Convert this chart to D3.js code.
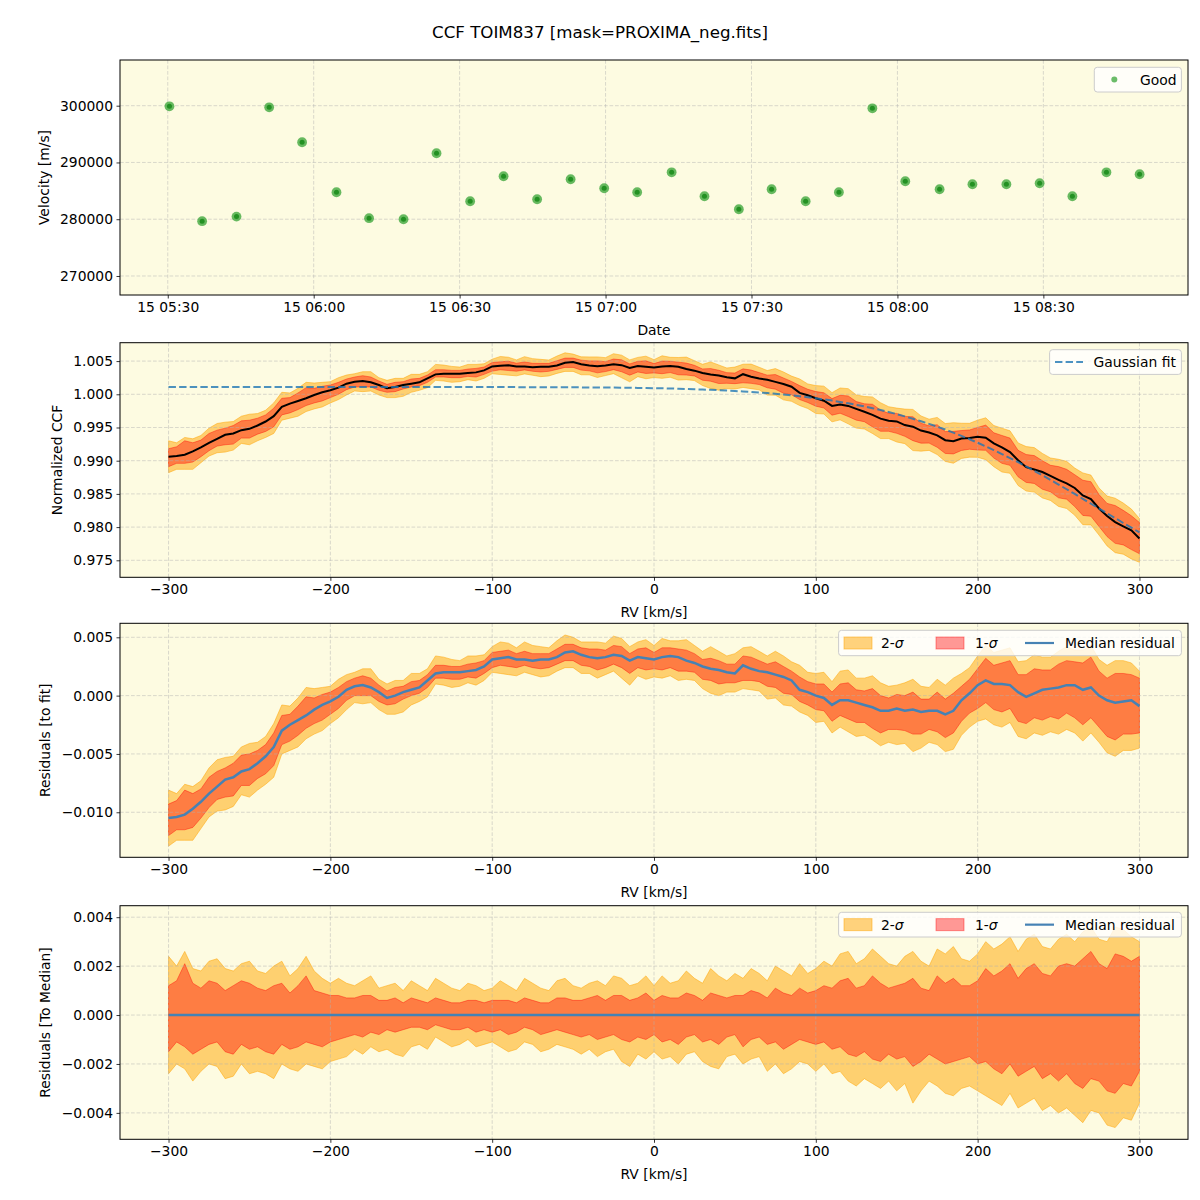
<!DOCTYPE html>
<html><head><meta charset="utf-8">
<script src="https://cdn.jsdelivr.net/npm/d3@7"></script>
<style>body{margin:0;background:#fff}</style>
</head><body><div id="chart"></div>
<script>
// ---------------- DATA ----------------
const obsTimes = ["05:30:21","05:37:04","05:44:08","05:50:51","05:57:37","06:04:41","06:11:23","06:18:28",
  "06:25:15","06:32:10","06:39:02","06:45:56","06:52:49","06:59:43","07:06:30","07:13:35","07:20:20",
  "07:27:24","07:34:08","07:41:08","07:47:58","07:54:51","08:01:37","08:08:40","08:15:25","08:22:24",
  "08:29:14","08:35:58","08:42:58","08:49:47"];
const velocities = [299890,279650,280460,299720,293560,284750,280180,280000,291620,283170,287570,283520,
  287040,285460,284750,288270,284050,281760,285280,283170,284750,299540,286690,285280,286160,286160,
  286340,284050,288270,287920];
const timeTicks = ["05:30","06:00","06:30","07:00","07:30","08:00","08:30"];
const obsDay = "2024-01-15";

// RV grid (km/s), step 5
const rvGrid = d3.range(-300, 301, 5);
// Gaussian fit to the CCF
const gaussFit = [
  1.0011,1.0011,1.0011,1.0011,1.0011,1.0011,1.0011,1.0011,1.0011,1.0011,
  1.0011,1.0011,1.0011,1.0011,1.0011,1.0011,1.0011,1.0011,1.0011,1.0011,
  1.0011,1.0011,1.0011,1.0011,1.0011,1.0011,1.0011,1.0011,1.0011,1.0011,
  1.0011,1.0011,1.0011,1.0011,1.0011,1.0011,1.0011,1.0011,1.0011,1.0011,
  1.00109,1.00109,1.00108,1.00108,1.00107,1.00107,1.00106,1.00106,1.00105,1.00105,
  1.00105,1.00104,1.00103,1.00103,1.00102,1.00101,1.00099,1.00098,1.00096,1.00094,
  1.00092,1.00090,1.00087,1.00084,1.00080,1.00076,1.00072,1.00067,1.00062,1.00056,
  1.00050,1.00043,1.00035,1.00027,1.00018,1.00007,0.99996,0.99984,0.99971,0.99956,
  0.99941,0.99923,0.99905,0.99885,0.99865,0.99841,0.99817,0.99790,0.99763,0.99733,
  0.99702,0.99667,0.99632,0.99594,0.99555,0.99512,0.99469,0.99422,0.99374,0.99323,
  0.99271,0.99216,0.99160,0.99100,0.99040,0.98977,0.98913,0.98847,0.98780,0.98711,
  0.98641,0.98570,0.98499,0.98426,0.98353,0.98280,0.98207,0.98135,0.98062,0.97991,
  0.97919];
// Median residual to the fit, in units of 1e-3
const residMedian = [
  -10.5,-10.4,-10.2,-9.7,-9.1,-8.4,-7.8,-7.2,-7.0,-6.5,-6.3,
  -5.8,-5.2,-4.4,-3.0,-2.5,-2.1,-1.7,-1.2,-0.8,-0.5,
  -0.1,0.5,0.8,0.9,0.7,0.3,-0.2,0.0,0.3,0.5,
  0.7,1.3,1.9,2.0,2.0,2.0,2.1,2.2,2.5,3.1,
  3.2,3.3,3.1,3.1,3.0,3.1,3.1,3.3,3.7,3.8,
  3.5,3.3,3.2,3.3,3.5,3.4,3.0,3.3,3.2,3.1,
  3.3,3.4,3.3,3.0,2.8,2.5,2.3,2.2,2.0,1.9,
  2.6,2.3,2.1,2.0,1.8,1.6,1.3,0.5,0.3,0.0,
  -0.2,-0.8,-0.4,-0.4,-0.6,-0.8,-1.0,-1.3,-1.3,-1.1,
  -1.3,-1.2,-1.4,-1.3,-1.3,-1.6,-1.3,-0.4,0.2,0.9,
  1.3,1.0,1.0,0.9,0.3,-0.1,0.2,0.5,0.6,0.7,
  0.9,0.9,0.5,0.7,0.0,-0.4,-0.6,-0.5,-0.4,-0.9];
// Percentile bands relative to the median, in units of 1e-3
const sig2Upper = [
  2.4,2.0,2.6,1.9,1.8,2.2,2.3,1.9,1.8,2.1,2.2,
  1.8,1.7,2.0,2.2,1.6,1.9,2.4,1.8,1.5,1.3,
  1.5,1.3,1.2,1.4,1.6,1.1,1.2,1.3,1.0,1.4,
  1.2,1.0,1.5,1.3,1.1,1.0,1.3,1.2,1.0,1.1,
  1.4,1.2,1.0,1.5,1.3,1.1,1.0,1.4,1.5,1.2,
  1.1,1.3,1.4,1.2,1.6,1.5,1.2,1.3,1.6,1.2,
  1.6,1.3,1.4,1.8,1.5,1.3,1.9,1.6,1.4,1.7,
  1.5,1.9,1.7,1.4,2.0,1.8,1.6,2.1,1.7,1.9,
  2.2,2.0,2.5,2.6,2.1,2.3,2.7,2.4,2.1,2.0,
  2.4,2.6,2.2,2.0,2.7,2.5,2.8,2.3,2.2,2.5,
  3.0,2.7,2.9,3.2,2.6,3.1,3.3,2.8,2.7,3.1,
  3.3,3.0,3.4,3.6,3.1,3.0,3.6,3.5,3.2,3.0];
const sig1Upper = [
  1.2,1.4,2.1,1.3,1.1,1.4,1.3,1.0,1.2,1.4,1.3,
  1.1,1.0,1.2,1.3,0.9,1.2,1.6,1.0,0.9,0.8,
  0.8,0.7,0.7,0.8,0.8,0.6,0.6,0.7,0.5,0.7,
  0.6,0.5,0.7,0.6,0.5,0.5,0.6,0.6,0.5,0.6,
  0.6,0.6,0.5,0.7,0.6,0.5,0.5,0.7,0.7,0.6,
  0.6,0.7,0.8,0.6,0.8,0.8,0.6,0.7,0.9,0.6,
  0.8,0.7,0.7,0.9,0.8,0.6,0.9,0.8,0.7,0.8,
  0.8,1.0,0.9,0.7,1.1,0.9,0.8,1.1,0.9,1.0,
  1.2,1.1,1.4,1.5,1.1,1.2,1.6,1.3,1.1,1.2,
  1.3,1.5,1.1,1.0,1.6,1.3,1.5,1.2,1.2,1.4,
  1.9,1.6,1.8,2.1,1.5,1.9,2.1,1.7,1.6,2.0,
  2.1,2.0,2.3,2.6,2.1,1.9,2.5,2.4,2.2,2.4];
const sig1Lower = [
  -1.5,-1.1,-1.3,-1.6,-1.4,-1.2,-1.1,-1.5,-1.6,-1.2,-1.4,
  -1.3,-1.5,-1.6,-1.2,-1.4,-1.3,-1.1,-1.2,-1.3,-1.1,
  -1.0,-0.9,-0.8,-0.9,-0.7,-0.8,-0.6,-0.7,-0.6,-0.5,
  -0.5,-0.6,-0.4,-0.5,-0.6,-0.6,-0.5,-0.7,-0.6,-0.7,
  -0.6,-0.8,-0.7,-0.5,-0.6,-0.8,-0.7,-0.6,-0.7,-0.8,
  -0.9,-0.8,-1.0,-0.9,-0.8,-1.0,-1.1,-0.9,-1.0,-0.8,
  -1.1,-1.0,-1.2,-0.9,-0.8,-1.1,-1.0,-1.2,-0.9,-0.8,
  -1.3,-1.0,-0.9,-1.2,-1.1,-1.4,-1.2,-1.0,-1.1,-1.2,
  -1.1,-1.4,-1.3,-1.6,-1.7,-1.5,-1.8,-1.9,-1.6,-1.8,
  -1.7,-2.1,-1.9,-1.6,-1.8,-2.0,-1.9,-1.8,-1.7,-2.0,
  -1.9,-2.2,-2.4,-2.0,-2.5,-2.3,-2.1,-2.6,-2.4,-2.7,
  -2.4,-2.8,-3.0,-2.6,-2.7,-3.1,-3.2,-2.8,-2.9,-2.3];
const sig2Lower = [
  -2.4,-2.0,-2.2,-2.7,-2.3,-2.0,-2.1,-2.6,-2.5,-2.0,-2.4,
  -2.3,-2.4,-2.6,-2.0,-2.2,-2.3,-2.0,-2.1,-2.2,-1.9,
  -1.8,-1.7,-1.4,-1.6,-1.3,-1.5,-1.4,-1.6,-1.7,-1.3,
  -1.2,-1.4,-0.9,-1.1,-1.3,-1.2,-1.0,-1.3,-1.2,-1.1,
  -1.3,-1.5,-1.4,-1.1,-1.2,-1.5,-1.4,-1.2,-1.3,-1.4,
  -1.6,-1.4,-1.7,-1.5,-1.4,-1.9,-2.1,-1.6,-1.8,-1.5,
  -1.8,-1.7,-2.0,-1.6,-1.5,-1.9,-2.1,-2.2,-1.7,-1.6,
  -2.0,-1.8,-1.7,-2.3,-2.0,-2.4,-2.2,-1.9,-2.0,-2.3,
  -2.0,-2.4,-2.3,-2.7,-2.9,-2.6,-2.8,-3.0,-2.7,-3.1,
  -2.8,-3.6,-3.1,-2.7,-2.9,-3.2,-3.3,-3.0,-2.9,-3.1,
  -3.3,-3.5,-3.7,-3.2,-3.8,-3.6,-3.4,-3.9,-3.7,-4.0,
  -3.8,-4.1,-4.4,-3.9,-4.0,-4.5,-4.6,-4.2,-4.3,-3.6];
const milli = 1e-3;

const rvTicks = [-300,-200,-100,0,100,200,300];
const velTicks = [270000,280000,290000,300000];
const ccfTicks = [0.975,0.980,0.985,0.990,0.995,1.000,1.005];
const resTicks = [-0.010,-0.005,0.000,0.005];
const medTicks = [-0.004,-0.002,0.000,0.002,0.004];

// ---------------- LAYOUT ----------------
const W = 1200, H = 1200, L = 120, R = 1188;
const FONT = "'DejaVu Sans', 'Liberation Sans', sans-serif";
const FS = 13.89;
const BG = "#fdfbe1";
const P = [{t:60,b:295},{t:342.7,b:577.3},{t:623.3,b:857.3},{t:905.7,b:1139.3}];

const svg = d3.select("#chart").append("svg").attr("width",W).attr("height",H)
  .style("font-family",FONT);
svg.append("rect").attr("width",W).attr("height",H).attr("fill","#fff");

svg.append("text").attr("x",600).attr("y",32).attr("text-anchor","middle")
  .attr("dominant-baseline","central").attr("font-size",16.67).attr("fill","#000")
  .text("CCF TOIM837 [mask=PROXIMA_neg.fits]");

function makePanel(i, x, y, xTicks, yTicks){
  const p = P[i];
  const g = svg.append("g");
  g.append("rect").attr("x",L).attr("y",p.t).attr("width",R-L).attr("height",p.b-p.t).attr("fill",BG);
  const cid = "clip"+i;
  g.append("clipPath").attr("id",cid).append("rect")
    .attr("x",L).attr("y",p.t).attr("width",R-L).attr("height",p.b-p.t);
  const under = g.append("g").attr("clip-path",`url(#${cid})`);
  const grid = g.append("g").attr("stroke","#b0b0b0").attr("stroke-opacity",0.6)
    .attr("stroke-width",0.8).attr("stroke-dasharray","3.7,1.8");
  xTicks.forEach(v => grid.append("line").attr("x1",x(v)).attr("x2",x(v)).attr("y1",p.t).attr("y2",p.b));
  yTicks.forEach(v => grid.append("line").attr("x1",L).attr("x2",R).attr("y1",y(v)).attr("y2",y(v)));
  const over = g.append("g").attr("clip-path",`url(#${cid})`);
  const frame = g.append("g");
  frame.append("rect").attr("x",L).attr("y",p.t).attr("width",R-L).attr("height",p.b-p.t)
    .attr("fill","none").attr("stroke","#000").attr("stroke-width",1);
  return {under, over, frame, p};
}
function styleAxis(sel){
  sel.attr("font-size",null).attr("font-family",null);
  sel.select(".domain").remove();
  sel.selectAll(".tick line").attr("stroke","#000").attr("stroke-width",0.8);
  sel.selectAll(".tick text").attr("font-size",FS).attr("fill","#000");
}
function axes(pan, x, y, xTicks, yTicks, xFmt, yFmt, xLabel, yLabel, yLabelX){
  const p = pan.p;
  const gx = svg.append("g").attr("transform",`translate(0,${p.b})`)
    .call(d3.axisBottom(x).tickValues(xTicks).tickFormat(xFmt).tickSize(3.5).tickPadding(3.5));
  styleAxis(gx);
  const gy = svg.append("g").attr("transform",`translate(${L},0)`)
    .call(d3.axisLeft(y).tickValues(yTicks).tickFormat(yFmt).tickSize(3.5).tickPadding(3.5));
  styleAxis(gy);
  svg.append("text").attr("x",(L+R)/2).attr("y",p.b+35).attr("text-anchor","middle")
    .attr("dominant-baseline","central").attr("font-size",FS).text(xLabel);
  const cy = (p.t+p.b)/2;
  svg.append("text").attr("transform",`translate(${yLabelX},${cy}) rotate(-90)`)
    .attr("text-anchor","middle").attr("dominant-baseline","central").attr("font-size",FS).text(yLabel);
}
function legendBox(x0,y0,x1,y1){
  svg.append("rect").attr("x",x0).attr("y",y0).attr("width",x1-x0).attr("height",y1-y0)
    .attr("rx",3).attr("fill","#fff").attr("fill-opacity",0.8).attr("stroke","#cccccc").attr("stroke-width",1);
}
function sigmaText(x, y, n){
  const t = svg.append("text").attr("x",x).attr("y",y).attr("dominant-baseline","central").attr("font-size",FS);
  t.append("tspan").text(n+"-");
  t.append("tspan").attr("font-style","italic").text("σ");
}
function bandLegend(y0,y1){
  legendBox(838.6,y0,1181.4,y1);
  const cy = (y0+y1)/2;
  svg.append("rect").attr("x",844).attr("y",cy-6).attr("width",28).attr("height",12)
    .attr("fill","orange").attr("fill-opacity",0.5).attr("stroke","orange").attr("stroke-opacity",0.5);
  sigmaText(881, cy, "2");
  svg.append("rect").attr("x",936).attr("y",cy-6).attr("width",28).attr("height",12)
    .attr("fill","red").attr("fill-opacity",0.4).attr("stroke","red").attr("stroke-opacity",0.4);
  sigmaText(975, cy, "1");
  svg.append("line").attr("x1",1025).attr("x2",1054).attr("y1",cy).attr("y2",cy)
    .attr("stroke","steelblue").attr("stroke-width",2.2);
  svg.append("text").attr("x",1065).attr("y",cy).attr("dominant-baseline","central")
    .attr("font-size",FS).text("Median residual");
}
function drawBands(layer, x, y, base){
  const a2 = d3.area().x((d,i)=>x(rvGrid[i])).y0((d,i)=>y(base[i]+sig2Lower[i]*milli)).y1((d,i)=>y(base[i]+sig2Upper[i]*milli));
  const a1 = d3.area().x((d,i)=>x(rvGrid[i])).y0((d,i)=>y(base[i]+sig1Lower[i]*milli)).y1((d,i)=>y(base[i]+sig1Upper[i]*milli));
  layer.append("path").attr("d",a2(rvGrid)).attr("fill","orange").attr("fill-opacity",0.5)
    .attr("stroke","orange").attr("stroke-opacity",0.5).attr("stroke-width",1);
  layer.append("path").attr("d",a1(rvGrid)).attr("fill","red").attr("fill-opacity",0.4)
    .attr("stroke","red").attr("stroke-opacity",0.4).attr("stroke-width",1);
}

// ---------------- PANEL 1: velocities ----------------
const parseT = d3.utcParse("%Y-%m-%d %H:%M:%S");
const tDates = obsTimes.map(t => parseT(obsDay+" "+t));
const tickDates = timeTicks.map(t => parseT(obsDay+" "+t+":00"));
const x1 = d3.scaleUtc().domain([parseT(obsDay+" 05:20:11"), parseT(obsDay+" 08:59:44")]).range([L,R]);
const y1 = d3.scaleLinear().domain([266653, 308050]).range([P[0].b, P[0].t]);
const pan1 = makePanel(0, x1, y1, tickDates, velTicks);
const pts = pan1.over.selectAll("g.pt").data(velocities).join("g").attr("class","pt")
  .attr("transform",(d,i)=>`translate(${x1(tDates[i])},${y1(d)})`);
pts.append("circle").attr("r",4.9).attr("fill","#2ca02c").attr("fill-opacity",0.72);
pts.append("circle").attr("r",2.5).attr("fill","#178a17").attr("fill-opacity",0.85);
axes(pan1, x1, y1, tickDates, velTicks, d3.utcFormat("%d %H:%M"), d3.format("d"), "Date", "Velocity [m/s]", 44);
legendBox(1094.3,67.3,1181.4,92);
svg.append("circle").attr("cx",1114.3).attr("cy",79.6).attr("r",3).attr("fill","#2ca02c").attr("fill-opacity",0.7);
svg.append("text").attr("x",1140).attr("y",79.6).attr("dominant-baseline","central").attr("font-size",FS).text("Good");

// ---------------- PANEL 2: normalized CCF ----------------
const xr = d3.scaleLinear().domain([-330, 330]).range([L,R]);
const ccfMedian = gaussFit.map((f,i) => f + residMedian[i]*milli);
const y2 = d3.scaleLinear().domain([0.97244, 1.00777]).range([P[1].b, P[1].t]);
const pan2 = makePanel(1, xr, y2, rvTicks, ccfTicks);
drawBands(pan2.under, xr, y2, ccfMedian);
pan2.over.append("path").attr("d", d3.line().x((d,i)=>xr(rvGrid[i])).y(d=>y2(d))(ccfMedian))
  .attr("fill","none").attr("stroke","#000").attr("stroke-width",2);
pan2.over.append("path").attr("d", d3.line().x((d,i)=>xr(rvGrid[i])).y(d=>y2(d))(gaussFit))
  .attr("fill","none").attr("stroke","#1f77b4").attr("stroke-opacity",0.8).attr("stroke-width",2)
  .attr("stroke-dasharray","7.4,3.2");
axes(pan2, xr, y2, rvTicks, ccfTicks, d3.format("d"), d3.format(".3f"), "RV [km/s]", "Normalized CCF", 57);
legendBox(1049.6,349.7,1181.4,374.4);
svg.append("line").attr("x1",1055).attr("x2",1083).attr("y1",362).attr("y2",362)
  .attr("stroke","#1f77b4").attr("stroke-opacity",0.8).attr("stroke-width",2).attr("stroke-dasharray","7.4,3.2");
svg.append("text").attr("x",1093.6).attr("y",362).attr("dominant-baseline","central").attr("font-size",FS).text("Gaussian fit");

// ---------------- PANEL 3: residuals to fit ----------------
const residVals = residMedian.map(v => v*milli);
const y3 = d3.scaleLinear().domain([-0.01386, 0.0062]).range([P[2].b, P[2].t]);
const pan3 = makePanel(2, xr, y3, rvTicks, resTicks);
drawBands(pan3.under, xr, y3, residVals);
pan3.over.append("path").attr("d", d3.line().x((d,i)=>xr(rvGrid[i])).y(d=>y3(d))(residVals))
  .attr("fill","none").attr("stroke","steelblue").attr("stroke-width",2.5);
axes(pan3, xr, y3, rvTicks, resTicks, d3.format("d"), d3.format(".3f"), "RV [km/s]", "Residuals [to fit]", 45);
bandLegend(630.3,655.7);

// ---------------- PANEL 4: residuals to median ----------------
const zeroBase = rvGrid.map(() => 0);
const y4 = d3.scaleLinear().domain([-0.00508, 0.00447]).range([P[3].b, P[3].t]);
const pan4 = makePanel(3, xr, y4, rvTicks, medTicks);
drawBands(pan4.under, xr, y4, zeroBase);
pan4.over.append("path").attr("d", d3.line().x((d,i)=>xr(rvGrid[i])).y(d=>y4(d))(zeroBase))
  .attr("fill","none").attr("stroke","steelblue").attr("stroke-width",2.5);
axes(pan4, xr, y4, rvTicks, medTicks, d3.format("d"), d3.format(".3f"), "RV [km/s]", "Residuals [To Median]", 45);
bandLegend(912.3,937);
</script>
</body></html>
